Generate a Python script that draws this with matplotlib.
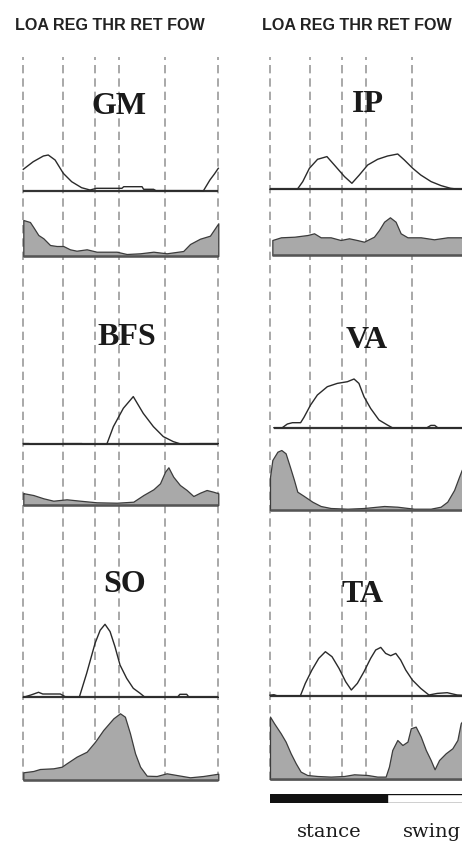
import matplotlib
matplotlib.use("Agg")
import matplotlib.pyplot as plt

W, H = 462, 841

# Gait events (% of gait cycle) and phase split
events = [0, 20.3, 37, 49, 72.7, 100]
event_labels = "LOA REG THR RET FOW"
stance_pct = 60
phase_labels = ["stance", "swing"]

# ---- EMG envelopes (upper line traces) and activation profiles (shaded) ----
gm_pct = [0, 5.1, 10.3, 12.8, 16.3, 20.5, 24.8, 29.9, 34.2, 37.6, 50.6, 51.5, 60.9, 61.7, 66.8, 68, 90.6, 92.3, 95.7, 98, 100]
gm_env = [21.7, 29.3, 35, 36, 31, 17.7, 9.3, 3.3, 1, 2.7, 2.7, 4.3, 4.3, 1.7, 1.7, 0.4, 0.4, 0, 11, 17, 22.7]
gm_fpct = [0, 3.4, 5.1, 7.7, 10.3, 13.7, 17.1, 20.5, 23.9, 27.3, 32.5, 37.6, 47.9, 53, 59.9, 66.7, 73.5, 82, 85.5, 90.6, 95.7, 100]
gm_fill = [36, 34, 29, 21, 17.7, 11, 10, 10, 6.7, 5.3, 6.7, 4.3, 4.3, 2, 2.7, 4.3, 2.7, 5, 12, 17.3, 20.3, 32.7]

bfs_pct = [0, 3, 3.5, 20, 20.5, 30, 30.5, 42.8, 46.2, 51.3, 56.4, 61.5, 66.7, 71.8, 76.9, 81.2, 85, 85.5, 100]
bfs_env = [0.7, 0.7, 0, 0, 0.7, 0.7, 0, 0, 17.7, 36, 47.7, 31, 17.7, 7.7, 2.7, 0, 0, 0.7, 0.7]
bfs_fpct = [0, 0.4, 5.1, 10.3, 15.4, 22.2, 29.1, 37.6, 47.9, 56.4, 61.6, 66.7, 70.1, 72.7, 74.4, 76.9, 80.3, 83.8, 87.2, 90.6, 94, 97.4, 100]
bfs_fill = [12, 11.7, 10, 6.7, 4.3, 5.7, 4.3, 2.7, 2.3, 3.3, 10, 15.7, 21.7, 33.3, 37.7, 28.3, 20, 15, 9, 12.3, 15, 13.3, 11.7]

so_pct = [0, 3.9, 7.8, 10, 19, 21.4, 23, 28.7, 32.5, 36.8, 39.4, 41.9, 44.5, 47, 49.6, 53, 56.4, 59.9, 62.4, 79, 80.3, 83.8, 85, 100]
so_env = [0, 2.3, 5, 3.3, 3.3, 0.7, 0, 0, 24, 54, 67, 73, 65.7, 50.7, 32.3, 19, 9, 4, 0, 0, 3, 3, 0, 0]
so_fpct = [0, 5.1, 8.5, 15.4, 19.7, 22.2, 27.3, 32.5, 36.8, 41, 46.2, 49.6, 52.1, 54.7, 57.3, 59.9, 63.3, 68.4, 73.5, 78.6, 85.5, 92.3, 100]
so_fill = [7.7, 9, 11, 11.7, 13.3, 16.7, 23.3, 28.3, 38.3, 50, 61.7, 66.7, 63.3, 46.7, 26.7, 13.3, 4.3, 4, 6.7, 5, 2.7, 4, 6.3]

ip_pct = [0, 14, 16.8, 20.2, 24.4, 29.2, 33, 38.2, 42, 45.8, 50.1, 55.2, 60.3, 65.5, 68.9, 73.2, 77.3, 82.6, 87.7, 92.6, 97, 100]
ip_env = [0, 0, 7.7, 21, 30, 32.7, 24.3, 12.7, 6, 14.3, 24.3, 30, 33.3, 35.3, 29.3, 21, 14.3, 7.7, 3.7, 1, 0, 0]
ip_fpct = [1.2, 5.6, 12.5, 19.3, 22.6, 26, 31.1, 36.2, 40.5, 44.6, 48.2, 53.3, 55.9, 58.5, 61.5, 64.4, 67, 70.5, 77.3, 84.1, 91, 97.8, 100]
ip_fill = [15, 17.7, 18.3, 20, 21.7, 17.7, 17.7, 15, 16.7, 15, 13.3, 18.3, 25, 33.3, 37.7, 33.3, 21.7, 17.7, 17.7, 15.7, 17.7, 17.7, 17]

va_pct = [2, 6.3, 8.9, 11.5, 15.7, 17.4, 20.8, 24.3, 29.4, 34.5, 39.7, 43.1, 45.6, 48.2, 51.6, 55.9, 60.2, 62.7, 80.5, 82.5, 84.5, 86, 100]
va_env = [0, 0, 3.7, 5, 5, 10.3, 22.7, 32.7, 41, 44.3, 46, 48.7, 44.3, 31, 19.3, 7.7, 2.7, 0, 0, 2.3, 2.3, 0, 0]
va_fpct = [0, 1.2, 3.8, 5.8, 8, 10.2, 12.3, 14, 17.4, 21.7, 26, 31.1, 39.7, 48.2, 58.5, 65.3, 73.8, 82.4, 87.5, 90.9, 94.4, 96.9, 98.3, 100]
va_fill = [33, 50, 58.3, 60, 56.7, 43.3, 30, 18.3, 14, 8.3, 4, 2, 1.3, 2, 4, 3.3, 1.3, 1.3, 3.3, 8.3, 20, 33, 40, 46]

ta_pct = [0, 2, 3.5, 15.6, 18.1, 21.5, 25, 28.4, 31.8, 35.4, 38.8, 41.7, 44.8, 48.2, 51.6, 54.2, 56.8, 59.3, 61.9, 64.5, 67, 69.6, 73, 77.3, 81.5, 85.8, 90.9, 96, 100]
ta_env = [0.5, 1, 0, 0, 12.3, 25.7, 37.3, 44, 39, 27.3, 14, 5.7, 12.3, 24, 37.3, 45.7, 48.3, 42.3, 40, 42.3, 35.7, 25.7, 15.7, 7.3, 0.7, 2.3, 3, 0.7, 0.3]
ta_fpct = [0, 2.1, 5.5, 8, 10.6, 13.2, 15.7, 19.1, 24.3, 31.1, 38, 43.1, 50, 55, 59.3, 61, 62.7, 65.3, 67.9, 70.5, 72.2, 74.7, 77.3, 79.9, 82.4, 84.4, 86.7, 90.1, 93.5, 96.1, 97.8, 100]
ta_fill = [62.7, 56, 46, 37.7, 26, 16, 7.7, 4.3, 3.3, 2.7, 3.3, 5, 4.3, 2.7, 2.7, 12.7, 29.3, 39.3, 34.3, 37.7, 51, 52.7, 42.7, 29.3, 19.3, 10, 19.3, 26, 31, 39.3, 56, 62]

# Panel layout (pixels): column left edge, title centre, baselines of both traces
COL_X = [23.3, 270]
COL_W = 195
TOP, BOTTOM = 57, 780
TRACE_H = 80

panels = [
    # column, title, title centre (x px, y px), line baseline, fill baseline, data
    (0, "GM", 119.5, 106.5, 191, 256, gm_pct, gm_env, gm_fpct, gm_fill),
    (0, "BFS", 126.7, 337.5, 444.3, 505, bfs_pct, bfs_env, bfs_fpct, bfs_fill),
    (0, "SO", 125, 585, 697.3, 780, so_pct, so_env, so_fpct, so_fill),
    (1, "IP", 368, 104, 189.3, 255, ip_pct, ip_env, ip_fpct, ip_fill),
    (1, "VA", 366.5, 340.5, 427.7, 510, va_pct, va_env, va_fpct, va_fill),
    (1, "TA", 362.5, 595, 695.7, 779.3, ta_pct, ta_env, ta_fpct, ta_fill),
]

LINE_C = "#2a2a2a"
FILL_C = "#a9a9a9"
EDGE_C = "#3c3c3c"
DASH_C = "#9a9a9a"

fig = plt.figure(figsize=(W / 100, H / 100), dpi=100)
fig.patch.set_facecolor("white")


def px_axes(x0, y_top, w, h, z=1):
    ax = fig.add_axes([x0 / W, 1 - (y_top + h) / H, w / W, h / H], zorder=z)
    ax.set_xlim(0, 100)
    ax.patch.set_alpha(0)
    ax.axis("off")
    return ax


# Background axes with dashed gait-event lines and header labels
for cx in COL_X:
    bg = px_axes(cx, TOP, COL_W, BOTTOM - TOP, z=0)
    bg.set_ylim(0, 1)
    for e in events:
        bg.axvline(e, color=DASH_C, lw=1.2, dashes=(5, 3), clip_on=False)
    fig.text((cx - 8.3) / W, 1 - 30 / H, event_labels, fontsize=11.6, fontweight="bold",
             family="Liberation Sans", color="#222222", va="baseline", ha="left")

for col, name, tx, ty, lb, fb, pct, env, fpct, fill in panels:
    cx = COL_X[col]
    fig.text(tx / W, 1 - ty / H, name, fontsize=23, fontweight="bold",
             family="Liberation Serif", color="#1a1a1a", ha="center", va="center")

    # upper: raw envelope line over its baseline
    ax = px_axes(cx, lb - TRACE_H, COL_W, TRACE_H, z=2)
    ax.set_ylim(0, TRACE_H)
    ax.hlines(0, pct[0], pct[-1], color="#333333", lw=1.6, clip_on=False)
    ax.plot(pct, env, color=LINE_C, lw=1.0, clip_on=False)

    # lower: shaded activation profile
    af = px_axes(cx, fb - TRACE_H, COL_W, TRACE_H, z=2)
    af.set_ylim(0, TRACE_H)
    af.fill_between(fpct, fill, 0, facecolor=FILL_C, edgecolor=EDGE_C, lw=0.9, clip_on=False)
    af.hlines(0, fpct[0], fpct[-1], color="#555555", lw=1.8, clip_on=False)

# Stance / swing bar under the right column
bar = px_axes(COL_X[1], 794, COL_W, 9, z=2)
bar.set_ylim(-0.5, 0.5)
bar.barh(0, stance_pct, left=0, height=1, color="#111111", edgecolor="#111111", lw=1)
bar.barh(0, 100 - stance_pct, left=stance_pct, height=1, color="white", edgecolor="#111111", lw=1)
fig.text(329 / W, 1 - 837 / H, phase_labels[0], fontsize=14, family="DejaVu Serif",
         color="#1a1a1a", ha="center", va="baseline")
fig.text(403 / W, 1 - 837 / H, phase_labels[1], fontsize=14, family="DejaVu Serif",
         color="#1a1a1a", ha="left", va="baseline")

fig.savefig("out.png", dpi=100, facecolor="white")
